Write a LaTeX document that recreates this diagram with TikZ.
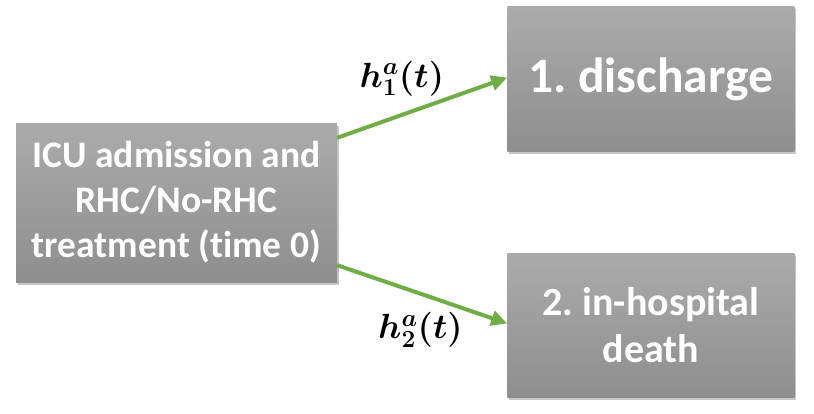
\RequirePackage{fix-cm}
\documentclass[tikz,border=0pt]{standalone}
\usepackage{fontspec}
\setmainfont{Carlito}[RawFeature=-liga]
\usepackage{amsmath}
\usepackage{bm}
\usepackage{tikz}
\usetikzlibrary{positioning,shadows,arrows.meta}
\definecolor{boxtop}{HTML}{ABABAB}
\definecolor{boxbot}{HTML}{8E8E8E}
\definecolor{arrowgreen}{HTML}{70AD47}
\newcommand{\hazard}[1]{\ensuremath{\bm{h}_{\bm{#1}}^{\bm{a}}\bm{(t)}}}
\frenchspacing

\begin{document}
\begin{tikzpicture}[
			state/.style={rectangle, top color=boxtop, bottom color=boxbot, text=white, font=\bfseries, align=center, inner sep=0pt,
				drop shadow={shadow xshift=1.5pt, shadow yshift=-2.5pt, opacity=0.45}},
			lbl/.style={font=\fontsize{35}{40}\selectfont, inner sep=2pt},
			trans/.style={draw=arrowgreen, line width=4pt, -{Triangle[length=16pt, width=15pt]}}
		]
		\useasboundingbox (0pt,0pt) rectangle (814pt,-413pt);
		\node[state, minimum width=321pt, minimum height=159pt, font=\bfseries\fontsize{37.5}{45}\selectfont] (adm) at (176.5pt,-202.5pt) {ICU admission and\\RHC/No-RHC\\treatment (time 0)};
		\node[state, minimum width=287pt, minimum height=145pt, font=\bfseries\fontsize{49.5}{60}\selectfont] (dis) [above right=-29pt and 170pt of adm] {1. discharge};
		\node[state, minimum width=287pt, minimum height=144pt, font=\bfseries\fontsize{40}{47}\selectfont] (dth) [below right=-29pt and 170pt of adm] {2. in-hospital\\death};
		%\node[state] (dth) [below=100pt of dis] {2. in-hospital\\death};

		\draw[trans] ([yshift=-15pt]adm.north east) -- node[lbl, pos=0.38, above=15pt] {\hazard{1}} ([yshift=1.5pt]dis.west);
		\draw[trans] ([yshift=17pt]adm.south east) -- node[lbl, pos=0.49, below=15pt] {\hazard{2}} ([yshift=2pt]dth.west);
		\end{tikzpicture}
\end{document}
